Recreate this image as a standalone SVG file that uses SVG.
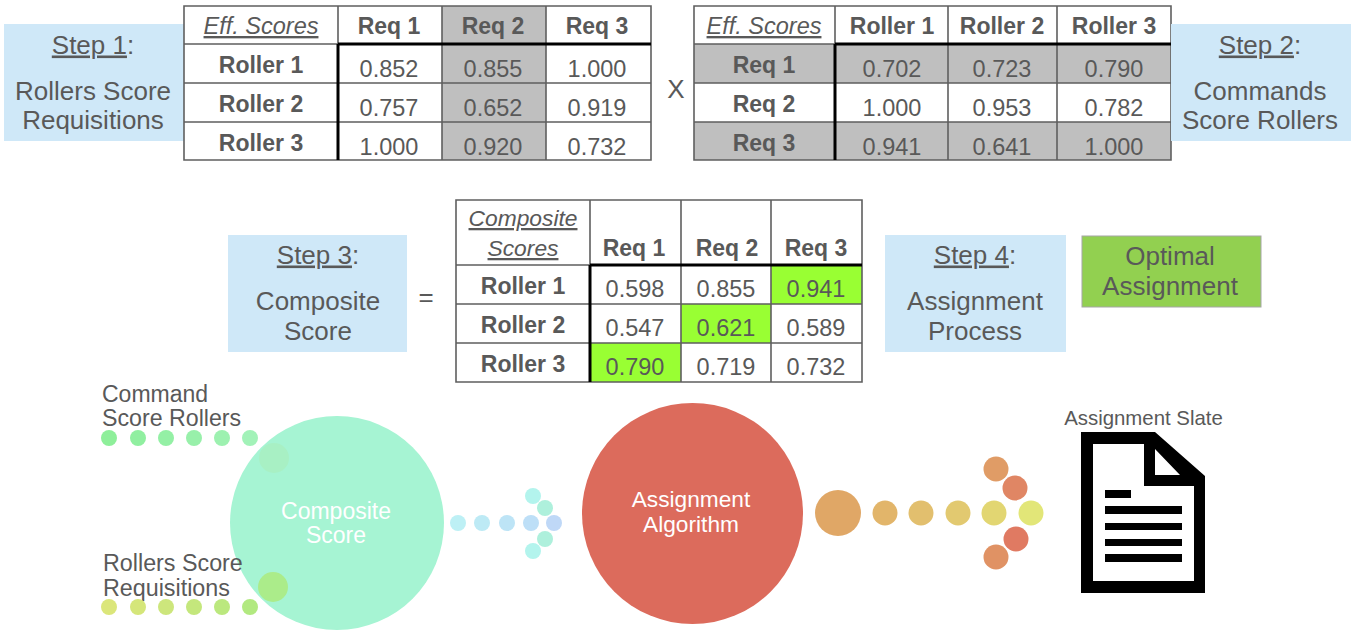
<svg xmlns="http://www.w3.org/2000/svg" width="1353" height="635" viewBox="0 0 1353 635">
<style>
text{font-family:"Liberation Sans",Arial,sans-serif;fill:#595959;text-anchor:middle}
.s{font-size:26px}
.n{font-size:23.5px}
.b{font-size:23px;font-weight:bold}
.e{font-size:23.5px;font-style:italic;text-decoration:underline}
.u{text-decoration:underline}
.box{fill:#cfe8f8}
.g{fill:#bfbfbf}
.lime{fill:#99ff33}
.grid{stroke:#5f5f5f;stroke-width:1.6;fill:none}
.thick{stroke:#000;stroke-width:3;fill:none}
.l{text-anchor:start}
</style>
<rect width="1353" height="635" fill="#fff"/>
<g id="step1"><rect class="box" x="4" y="24" width="180" height="117"/>
<text class="s" x="93" y="53.5"><tspan class="u">Step 1</tspan>:</text><text class="s" x="93" y="99.5">Rollers Score</text><text class="s" x="93" y="128.5">Requisitions</text></g>
<g id="table1">
<rect class="g" x="442" y="6" width="104" height="154"/>
<path class="grid" d="M184 6H651V160H184ZM338 6V160M442 6V160M546 6V160M184 44H651M184 83H651M184 122H651"/>
<path class="thick" d="M338 44H651M338 44V160"/>
<text class="e" x="261" y="34">Eff. Scores</text>
<text class="b" x="389" y="34">Req 1</text><text class="b" x="493" y="34">Req 2</text><text class="b" x="597" y="34">Req 3</text>
<text class="b" x="261" y="73">Roller 1</text><text class="b" x="261" y="112">Roller 2</text><text class="b" x="261" y="151">Roller 3</text>
<text class="n" x="389" y="77">0.852</text><text class="n" x="493" y="77">0.855</text><text class="n" x="597" y="77">1.000</text>
<text class="n" x="389" y="116">0.757</text><text class="n" x="493" y="116">0.652</text><text class="n" x="597" y="116">0.919</text>
<text class="n" x="389" y="155">1.000</text><text class="n" x="493" y="155">0.920</text><text class="n" x="597" y="155">0.732</text>
</g>
<g id="times"><text class="s" x="676" y="98">X</text></g>
<g id="table2">
<rect class="g" x="694" y="44" width="477" height="39"/><rect class="g" x="694" y="122" width="477" height="38"/>
<path class="grid" d="M694 6H1171V160H694ZM835 6V160M948 6V160M1057 6V160M694 44H1171M694 83H1171M694 122H1171"/>
<path class="thick" d="M835 44H1171M835 44V160"/>
<text class="e" x="764" y="34">Eff. Scores</text>
<text class="b" x="892" y="34">Roller 1</text><text class="b" x="1002" y="34">Roller 2</text><text class="b" x="1114" y="34">Roller 3</text>
<text class="b" x="764" y="73">Req 1</text><text class="b" x="764" y="112">Req 2</text><text class="b" x="764" y="151">Req 3</text>
<text class="n" x="892" y="77">0.702</text><text class="n" x="1002" y="77">0.723</text><text class="n" x="1114" y="77">0.790</text>
<text class="n" x="892" y="116">1.000</text><text class="n" x="1002" y="116">0.953</text><text class="n" x="1114" y="116">0.782</text>
<text class="n" x="892" y="155">0.941</text><text class="n" x="1002" y="155">0.641</text><text class="n" x="1114" y="155">1.000</text>
</g>
<g id="step2"><rect class="box" x="1171" y="24" width="180" height="117"/>
<text class="s" x="1260" y="53.5"><tspan class="u">Step 2</tspan>:</text><text class="s" x="1260" y="99.5">Commands</text><text class="s" x="1260" y="128.5">Score Rollers</text></g>
<g id="step3"><rect class="box" x="228" y="235" width="179" height="117"/>
<text class="s" x="318" y="263.5"><tspan class="u">Step 3</tspan>:</text><text class="s" x="318" y="309.5">Composite</text><text class="s" x="318" y="339.5">Score</text></g>
<g id="equals"><text class="s" x="426" y="306">=</text></g>
<g id="table3">
<rect class="lime" x="771" y="265" width="91" height="39"/><rect class="lime" x="681" y="304" width="90" height="39"/><rect class="lime" x="590" y="343" width="91" height="39"/>
<path class="grid" d="M456 200H862V382H456ZM590 200V382M681 200V382M771 200V382M456 265H862M456 304H862M456 343H862"/>
<path class="thick" d="M590 265H862M590 265V382"/>
<text class="e" x="523" y="226" style="font-size:22.8px">Composite</text><text class="e" x="523" y="256" style="font-size:22.8px">Scores</text>
<text class="b" x="634" y="256">Req 1</text><text class="b" x="727" y="256">Req 2</text><text class="b" x="816" y="256">Req 3</text>
<text class="b" x="523" y="294">Roller 1</text><text class="b" x="523" y="333">Roller 2</text><text class="b" x="523" y="372">Roller 3</text>
<text class="n" x="635" y="297">0.598</text><text class="n" x="726" y="297">0.855</text><text class="n" x="816" y="297">0.941</text>
<text class="n" x="635" y="336">0.547</text><text class="n" x="726" y="336">0.621</text><text class="n" x="816" y="336">0.589</text>
<text class="n" x="635" y="375">0.790</text><text class="n" x="726" y="375">0.719</text><text class="n" x="816" y="375">0.732</text>
</g>
<g id="step4"><rect class="box" x="885" y="235" width="181" height="117"/>
<text class="s" x="975" y="263.5"><tspan class="u">Step 4</tspan>:</text><text class="s" x="975" y="309.5">Assignment</text><text class="s" x="975" y="339.5">Process</text></g>
<g id="optimal"><rect x="1082" y="236" width="179" height="71" fill="#92d050" stroke="#a6a6a6"/>
<text class="s" x="1170" y="264.5">Optimal</text><text class="s" x="1170" y="294.5">Assignment</text></g>
<g id="composite"><circle cx="337" cy="523" r="107" fill="#a6f4d3"/>
<circle cx="274" cy="458" r="15" fill="#a8f0c4"/><circle cx="273" cy="587" r="15" fill="#abec8a"/>
<text class="s" x="336" y="519" style="fill:#fff;font-size:23px">Composite</text><text class="s" x="336" y="543" style="fill:#fff;font-size:23px">Score</text></g>
<g id="algorithm"><circle cx="692.500" cy="513.500" r="110.500" fill="#dc6b5c"/>
<text x="691" y="507" style="fill:#fff;font-size:22.700px">Assignment</text><text x="691" y="532" style="fill:#fff;font-size:22.700px">Algorithm</text></g>
<g id="label-command"><text class="l" x="102" y="402" style="font-size:23px">Command</text><text class="l" x="102" y="426" style="font-size:23.200px">Score Rollers</text></g>
<g id="label-rollers"><text class="l" x="103" y="571" style="font-size:23.300px">Rollers Score</text><text class="l" x="103" y="596" style="font-size:23.300px">Requisitions</text></g>
<g id="connectors">
<g id="dots-command"><circle cx="109" cy="438" r="8" fill="#8eef9a"/><circle cx="138" cy="438" r="8" fill="#90efa0"/><circle cx="166" cy="438" r="8" fill="#94f0a5"/><circle cx="194" cy="438" r="8" fill="#98f0aa"/><circle cx="222" cy="438" r="8" fill="#9df1b0"/><circle cx="250" cy="438" r="8" fill="#a2f2b8"/></g>
<g id="dots-rollers"><circle cx="109" cy="607" r="8" fill="#dbe67a"/><circle cx="138" cy="607" r="8" fill="#d5e67a"/><circle cx="166" cy="607" r="8" fill="#cde67c"/><circle cx="194" cy="607" r="8" fill="#c4e77c"/><circle cx="222" cy="607" r="8" fill="#bbe87e"/><circle cx="250" cy="607" r="8" fill="#b2e980"/></g>
<g id="arrow-blue"><circle cx="458" cy="523" r="8" fill="#bdf0f5"/><circle cx="482" cy="523" r="8" fill="#bdeaf5"/><circle cx="507" cy="523" r="8" fill="#bde4f6"/><circle cx="531" cy="523" r="8" fill="#bddff7"/><circle cx="554" cy="523" r="8" fill="#bfd8f7"/><circle cx="533" cy="496" r="8" fill="#b3f4ed"/><circle cx="545" cy="508" r="8" fill="#aef0dc"/><circle cx="545" cy="539" r="8" fill="#aef0dc"/><circle cx="533" cy="551" r="8" fill="#b3f4ed"/></g>
<g id="arrow-orange"><circle cx="838" cy="513" r="23" fill="#e0a766"/><circle cx="885" cy="513" r="12.500" fill="#e2b56a"/><circle cx="921" cy="513" r="12.500" fill="#e2bf6e"/><circle cx="958" cy="513" r="12.500" fill="#e2c970"/><circle cx="994" cy="513" r="12.500" fill="#e2d672"/><circle cx="1031" cy="513" r="12.500" fill="#e2e678"/><circle cx="996" cy="469" r="12.500" fill="#e09c66"/><circle cx="1015" cy="488" r="12.500" fill="#e08664"/><circle cx="1016" cy="539" r="12.500" fill="#e07a62"/><circle cx="996" cy="557" r="12.500" fill="#e09264"/></g>
</g>
<g id="assignment-slate"><text x="1143.500" y="425" style="font-size:20.400px">Assignment Slate</text>
<path fill-rule="evenodd" d="M1081 432H1155L1205 476V593H1081ZM1093 444V581H1194V486H1144V444ZM1155 449V475H1180Z"/>
<path d="M1105 490h26v8h-26zM1105 506h77v8h-77zM1105 523h77v7h-77zM1105 539h77v7h-77zM1105 554h77v8h-77z"/></g>
</svg>
